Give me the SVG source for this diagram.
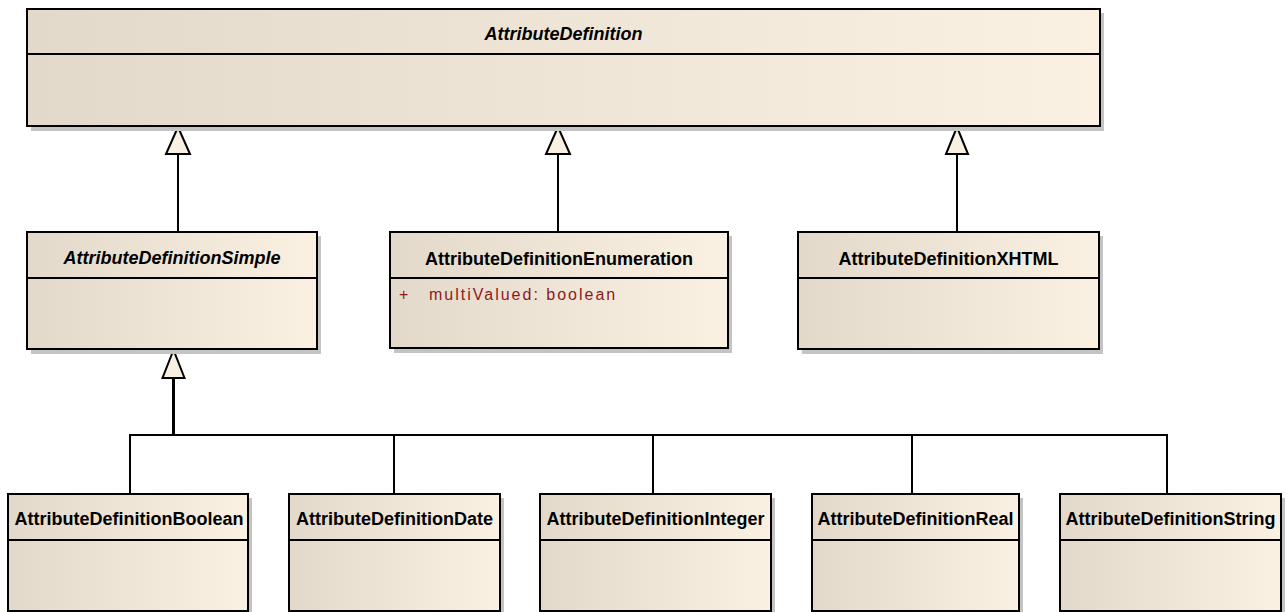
<svg xmlns="http://www.w3.org/2000/svg" width="1287" height="612" viewBox="0 0 1287 612">
<style>
.box{fill:url(#g);stroke:#000;stroke-width:2}
.sh{fill:#c4c4c4}
.div{stroke:#000;stroke-width:1.8}
.name{font-family:"Liberation Sans",Arial,sans-serif;font-size:18px;font-weight:bold;fill:#000;text-anchor:middle}
.abs{font-style:italic}
.attr{font-family:"Liberation Sans",Arial,sans-serif;font-size:16px;fill:#8b1a1a;letter-spacing:2px}
.ln{stroke:#000;stroke-width:2;fill:none}
.tri{fill:#faf0e2;stroke:#000;stroke-width:2;stroke-linejoin:miter}
</style>
<defs>
<linearGradient id="g" x1="0" y1="0" x2="1" y2="0">
<stop offset="0" stop-color="#e2d9ca"/>
<stop offset="1" stop-color="#fbf1e3"/>
</linearGradient>
</defs>
<rect width="1287" height="612" fill="#fff"/>

<g id="connectors">
<line class="ln" x1="178" y1="154" x2="178" y2="232"/>
<polygon class="tri" points="178,127 166,154 190,154"/>
<line class="ln" x1="558" y1="154" x2="558" y2="232"/>
<polygon class="tri" points="558,127 546,154 570,154"/>
<line class="ln" x1="957" y1="154" x2="957" y2="232"/>
<polygon class="tri" points="957,127 946,154 968,154"/>
<line class="ln" x1="173.5" y1="378" x2="173.5" y2="435" style="stroke-width:3"/>
<polygon class="tri" points="173.5,350 162.5,378 184.5,378"/>
<polyline class="ln" points="130,494 130,435 1167,435 1167,494"/>
<line class="ln" x1="394" y1="435" x2="394" y2="494"/>
<line class="ln" x1="653" y1="435" x2="653" y2="494"/>
<line class="ln" x1="912" y1="435" x2="912" y2="494"/>
</g>

<g id="AttributeDefinition">
<rect class="sh" x="31" y="13" width="1073" height="118"/>
<rect class="box" x="27" y="9" width="1073" height="117"/>
<line class="div" x1="27" y1="54" x2="1100" y2="54"/>
<text class="name abs" x="563.5" y="40">AttributeDefinition</text>
</g>

<g id="AttributeDefinitionSimple">
<rect class="sh" x="31" y="236" width="290" height="118"/>
<rect class="box" x="27" y="232" width="290" height="117"/>
<line class="div" x1="27" y1="278" x2="317" y2="278"/>
<text class="name abs" x="172" y="264">AttributeDefinitionSimple</text>
</g>

<g id="AttributeDefinitionEnumeration">
<rect class="sh" x="394" y="236" width="338" height="117"/>
<rect class="box" x="390" y="232" width="338" height="116"/>
<line class="div" x1="390" y1="278" x2="728" y2="278"/>
<text class="name" x="559" y="265">AttributeDefinitionEnumeration</text>
<text class="attr" x="399" y="300">+</text>
<text class="attr" x="429" y="300">multiValued: boolean</text>
</g>

<g id="AttributeDefinitionXHTML">
<rect class="sh" x="802" y="236" width="301" height="118"/>
<rect class="box" x="798" y="232" width="301" height="117"/>
<line class="div" x1="798" y1="278" x2="1099" y2="278"/>
<text class="name" x="948.5" y="265">AttributeDefinitionXHTML</text>
</g>

<g id="AttributeDefinitionBoolean">
<rect class="sh" x="12" y="498" width="240" height="118"/>
<rect class="box" x="8" y="494" width="240" height="117"/>
<line class="div" x1="8" y1="540" x2="248" y2="540"/>
<text class="name" x="129" y="525">AttributeDefinitionBoolean</text>
</g>

<g id="AttributeDefinitionDate">
<rect class="sh" x="293" y="498" width="211" height="118"/>
<rect class="box" x="289" y="494" width="211" height="117"/>
<line class="div" x1="289" y1="540" x2="500" y2="540"/>
<text class="name" x="394.5" y="525">AttributeDefinitionDate</text>
</g>

<g id="AttributeDefinitionInteger">
<rect class="sh" x="544" y="498" width="231" height="118"/>
<rect class="box" x="540" y="494" width="231" height="117"/>
<line class="div" x1="540" y1="540" x2="771" y2="540"/>
<text class="name" x="655.5" y="525">AttributeDefinitionInteger</text>
</g>

<g id="AttributeDefinitionReal">
<rect class="sh" x="816" y="498" width="207" height="118"/>
<rect class="box" x="812" y="494" width="207" height="117"/>
<line class="div" x1="812" y1="540" x2="1019" y2="540"/>
<text class="name" x="915.5" y="525">AttributeDefinitionReal</text>
</g>

<g id="AttributeDefinitionString">
<rect class="sh" x="1064" y="498" width="221" height="118"/>
<rect class="box" x="1060" y="494" width="221" height="117"/>
<line class="div" x1="1060" y1="540" x2="1281" y2="540"/>
<text class="name" x="1170.5" y="525">AttributeDefinitionString</text>
</g>
</svg>
